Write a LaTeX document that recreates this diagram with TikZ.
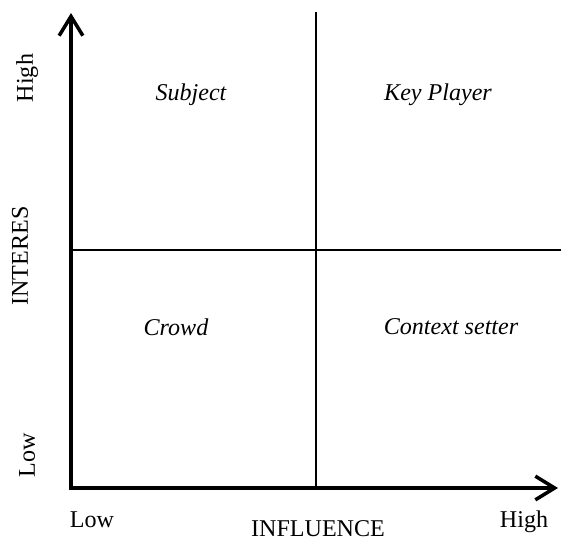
\documentclass[tikz,border=0pt]{standalone}
\usepackage{fontspec}
\setmainfont{Liberation Serif}
\usepackage{tikz}
\usetikzlibrary{arrows.meta}

\tikzset{
  axis/.style={line width=2pt,{Straight Barb[length=11pt,width=13.5pt,line width=2pt]}-{Straight Barb[length=11pt,width=13.5pt,line width=2pt]}},
  divider/.style={line width=1.5pt},
  quad/.style={font=\fontsize{13.7}{16}\selectfont\itshape},
  lbl/.style={font=\fontsize{13.7}{16}\selectfont}
}

\begin{document}
\begin{tikzpicture}[x=0.02cm,y=-0.02cm]
\useasboundingbox (0,0) rectangle (561,541);
\coordinate (origin) at (71,488);
\coordinate (ytop) at (71,13);
\coordinate (xend) at (558,488);
\coordinate (vtop) at (316,12);
\coordinate (vbot) at (316,488);
\coordinate (hleft) at (71,250);
\coordinate (hright) at (561,250);
\draw[divider] (vtop) -- (vbot);
\draw[divider] (hleft) -- (hright);
\draw[axis] (ytop) -- (origin) -- (xend);
\node[quad] (subject) at (191,95) {Subject};
\node[quad] (keyplayer) at (438,95) {Key Player};
\node[quad] (crowd) at (176,327) {Crowd};
\node[quad] (context) at (451,327) {Context setter};
\node[lbl,rotate=90] (yhigh) at (27,78) {High};
\node[lbl,rotate=90] (yname) at (20,256) {INTERES};
\node[lbl,rotate=90] (ylow) at (27,455) {Low};
\node[lbl] (xlow) at (92,520) {Low};
\node[lbl] (xname) at (318,529) {INFLUENCE};
\node[lbl] (xhigh) at (524,522) {High};
\end{tikzpicture}
\end{document}
